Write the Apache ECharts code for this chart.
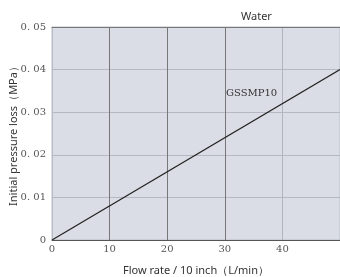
<!DOCTYPE html>
<html>
<head>
<meta charset="utf-8">
<script src="https://cdn.jsdelivr.net/npm/echarts@6/dist/echarts.min.js"></script>
<style>
  html, body { margin: 0; padding: 0; background: #fff; }
  #chart { width: 340px; height: 277px; }
</style>
</head>
<body>
<div id="chart"></div>
<script>
var flowRate = [0, 50];
var pressureLoss = [0, 0.04];
var xTicks = [0, 10, 20, 30, 40];
var yTicks = [0, 0.01, 0.02, 0.03, 0.04, 0.05];
var seriesName = 'GSSMP10';

var myChart = echarts.init(document.getElementById('chart'));
var serif = '"DejaVu Serif", "Liberation Serif", serif';
var option = {
    animation: false,
    title: {
        text: 'Water',
        left: 236,
        top: 6,
        textStyle: { fontSize: 11, fontWeight: 'normal', color: '#333', fontFamily: 'Noto Sans' }
    },
    grid: {
        left: 52, top: 27, width: 288, height: 213,
        outerBoundsMode: 'none',
        containLabel: false,
        show: true,
        backgroundColor: '#dadde5',
        borderColor: '#b8bcc6',
        borderWidth: 1
    },
    xAxis: [{
        type: 'value',
        min: 0, max: 50, interval: 10,
        name: 'Flow rate / 10 inch（L/min）',
        nameLocation: 'middle',
        nameGap: 25,
        nameMoveOverlap: false,
        nameTextStyle: { fontSize: 11, color: '#333', fontFamily: 'Noto Sans' },
        axisLine: { lineStyle: { color: '#555', width: 1 } },
        axisTick: { show: false },
        axisLabel: {
            color: '#555', fontSize: 10, fontFamily: serif, margin: 4,
            showMaxLabel: false,
            formatter: function (v) { return xTicks.indexOf(v) >= 0 ? String(v) : ''; }
        },
        splitLine: {
            show: true,
            lineStyle: { color: ['#777', '#777', '#777', '#777', '#b0b4be', '#b0b4be'], width: 1 }
        }
    }, {
        type: 'value',
        position: 'top',
        min: 0, max: 50, interval: 10,
        axisLine: { show: true, lineStyle: { color: '#777', width: 1 } },
        axisTick: { show: false },
        axisLabel: { show: false },
        splitLine: { show: false }
    }],
    yAxis: {
        type: 'value',
        min: 0, max: 0.05, interval: 0.01,
        name: 'Initial pressure loss（MPa）',
        nameLocation: 'middle',
        nameGap: 33,
        nameMoveOverlap: false,
        nameTextStyle: { fontSize: 11, color: '#333', fontFamily: 'Noto Sans' },
        axisLine: { show: true, lineStyle: { color: '#b8bcc6' } },
        axisTick: { show: false },
        axisLabel: {
            color: '#555', fontSize: 10, fontFamily: serif, margin: 6,
            formatter: function (v) {
                var t = yTicks.find(function (y) { return Math.abs(y - v) < 1e-9; });
                if (t === undefined) return '';
                return t === 0 ? '0' : t.toFixed(2).replace('.', '. ');
            }
        },
        splitLine: { show: true, lineStyle: { color: '#b4b8c2', width: 1 } }
    },
    series: [{
        name: seriesName,
        type: 'line',
        data: flowRate.map(function (x, i) { return [x, pressureLoss[i]]; }),
        symbol: 'none',
        lineStyle: { color: '#222', width: 1.2 }
    }],
    graphic: [{
        type: 'text',
        left: 226, top: 88,
        style: { text: seriesName, fontSize: 10, fontFamily: serif, fill: '#333' }
    }]
};
myChart.setOption(option);
</script>
</body>
</html>
